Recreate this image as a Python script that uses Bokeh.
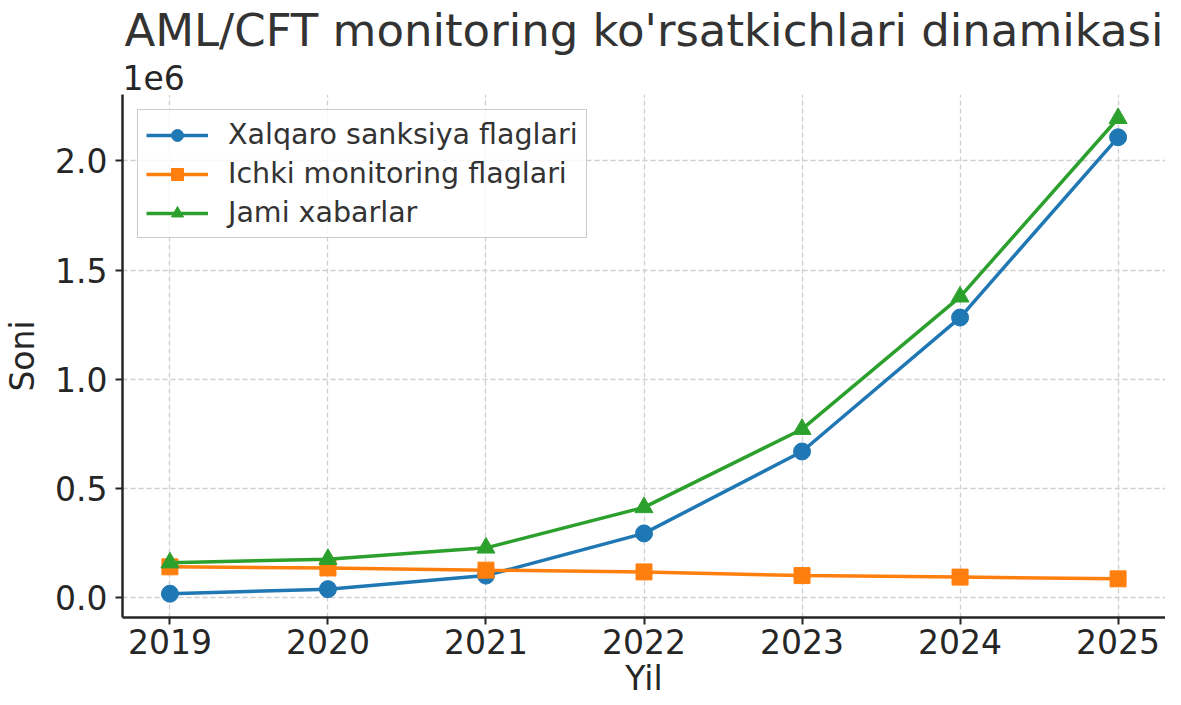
from bokeh.plotting import figure
from bokeh.models import Range1d, FixedTicker, Legend, LegendItem, Title, ColumnDataSource
from bokeh.embed import file_html
from bokeh.resources import INLINE

# ---- data ----
years = [2019, 2020, 2021, 2022, 2023, 2024, 2025]
xalqaro = [19000, 40000, 102000, 295000, 670000, 1283000, 2108000]
ichki = [142000, 137000, 127000, 119000, 102000, 95000, 87000]
jami = [161000, 177000, 229000, 414000, 772000, 1378000, 2195000]
series_names = ["Xalqaro sanksiya flaglari", "Ichki monitoring flaglari", "Jami xabarlar"]
y_ticks = [0, 500000, 1000000, 1500000, 2000000]
y_tick_labels = ["0.0", "0.5", "1.0", "1.5", "2.0"]
title_text = "AML/CFT monitoring ko'rsatkichlari dinamikasi"
x_label = "Yil"
y_label = "Soni"
offset_text = "1e6"

FONT = "DejaVu Sans"
TXT = "#262626"

allv = xalqaro + ichki + jami
ymin, ymax = min(allv), max(allv)
ypad = (ymax - ymin) * 0.05
xpad = (years[-1] - years[0]) * 0.05
y0, y1 = ymin - ypad, ymax + ypad
x0, x1 = years[0] - xpad, years[-1] + xpad

p = figure(width=1165, height=697, output_backend="svg", toolbar_location=None,
           x_range=Range1d(x0, x1), y_range=Range1d(y0, y1),
           title=title_text,
           min_border_left=110, min_border_right=0, min_border_top=4, min_border_bottom=0)

p.title.align = "center"
p.title.text_font = FONT
p.title.text_font_size = "45px"
p.title.text_font_style = "normal"
p.title.text_color = "#333333"
p.title.standoff = 2

off_title = Title(text=offset_text, align="left", text_font=FONT, text_font_size="33px",
                  text_font_style="normal", text_color=TXT, standoff=10)
p.add_layout(off_title, "above")

xlab_title = Title(text=x_label, align="center", text_font=FONT, text_font_size="33px",
                   text_font_style="normal", text_color=TXT, standoff=0,
                   vertical_align="bottom")
p.add_layout(xlab_title, "below")

p.background_fill_color = "white"
p.border_fill_color = "white"
p.outline_line_color = None

# axes
for ax in (p.xaxis[0], p.yaxis[0]):
    ax.axis_line_color = TXT
    ax.axis_line_width = 2.5
    ax.major_tick_line_color = TXT
    ax.major_tick_line_width = 2
    ax.major_tick_out = 7
    ax.major_tick_in = 0
    ax.minor_tick_line_color = None
    ax.major_label_text_font = FONT
    ax.major_label_text_font_size = "33px"
    ax.major_label_text_color = TXT
    ax.axis_label_text_font = FONT
    ax.axis_label_text_font_size = "33px"
    ax.axis_label_text_font_style = "normal"
    ax.axis_label_text_color = TXT

p.xaxis.ticker = FixedTicker(ticks=years)
p.xaxis.major_label_overrides = {y: str(y) for y in years}
p.xaxis.major_label_standoff = 4

p.yaxis.ticker = FixedTicker(ticks=y_ticks)
p.yaxis.major_label_overrides = {t: l for t, l in zip(y_ticks, y_tick_labels)}
p.yaxis.axis_label = y_label
p.yaxis.major_label_standoff = 8
p.yaxis.axis_label_standoff = 10

# grid
for g in (p.xgrid[0], p.ygrid[0]):
    g.grid_line_color = "#cfcfcf"
    g.grid_line_width = 1.3
    g.grid_line_dash = "5 3"

colors = ["#1f77b4", "#ff7f0e", "#2ca02c"]
markers = ["circle", "square", "triangle"]
sizes = [17, 16, 18]
series = [xalqaro, ichki, jami]

items = []
for name, vals, c, m, s in zip(series_names, series, colors, markers, sizes):
    src = ColumnDataSource(dict(x=years, y=vals))
    lr = p.line("x", "y", source=src, line_color=c, line_width=3.5)
    sr = p.scatter("x", "y", source=src, marker=m, size=s, fill_color=c, line_color=c)
    items.append(LegendItem(label=name, renderers=[lr, sr]))

legend = Legend(items=items, location="top_left", margin=15,
                label_text_font=FONT, label_text_font_size="28.5px", label_text_color="#333333",
                border_line_color="#cccccc", border_line_width=1.5, border_line_alpha=1,
                background_fill_color="white", background_fill_alpha=0.8,
                glyph_width=62, glyph_height=30, label_height=30, label_standoff=20,
                spacing=6, padding=8)
p.add_layout(legend)

open("out.html", "w").write(file_html(p, INLINE))
